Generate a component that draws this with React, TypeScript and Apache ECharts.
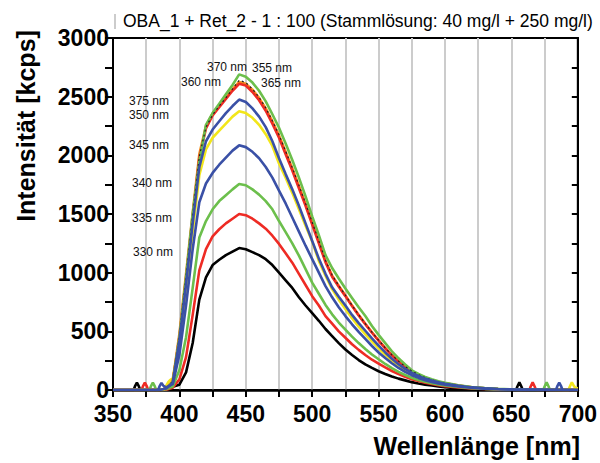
import React, { useEffect, useRef } from "react";
import * as echarts from "echarts";

// Shared wavelength grid (nm) for the main emission band
const wl = [395, 400, 405, 410, 415, 420, 425, 430, 435, 440, 445, 450, 455, 460, 465, 470, 475, 480, 485, 490, 495, 500, 505, 510, 515, 520, 525, 530, 535, 540, 545, 550, 555, 560, 565, 570, 575, 580, 585, 590, 595, 600, 610, 620, 630, 640];

const ex330 = [28, 45, 150, 400, 770, 960, 1065, 1110, 1150, 1180, 1210, 1200, 1175, 1150, 1115, 1065, 1000, 935, 870, 790, 720, 655, 590, 520, 460, 400, 345, 298, 255, 218, 188, 160, 137, 115, 97, 82, 67, 56, 46, 38, 30, 23, 14, 9, 5, 3];
const ex335 = [20, 90, 280, 640, 1020, 1200, 1310, 1370, 1420, 1460, 1500, 1490, 1460, 1420, 1375, 1315, 1245, 1165, 1085, 990, 895, 800, 720, 630, 565, 500, 445, 390, 342, 298, 258, 225, 192, 162, 135, 112, 92, 76, 62, 51, 41, 33, 21, 13, 8, 4];
const ex340 = [30, 170, 450, 870, 1300, 1440, 1540, 1610, 1660, 1710, 1755, 1745, 1710, 1665, 1610, 1540, 1440, 1345, 1250, 1145, 1030, 915, 820, 725, 645, 575, 515, 455, 400, 350, 303, 262, 222, 187, 155, 128, 105, 86, 70, 58, 47, 38, 25, 16, 10, 5];
const ex345 = [50, 300, 720, 1200, 1600, 1760, 1850, 1920, 1980, 2040, 2085, 2070, 2030, 1975, 1900, 1810, 1700, 1590, 1470, 1350, 1230, 1115, 1000, 885, 790, 705, 630, 560, 495, 435, 375, 320, 272, 228, 188, 155, 126, 103, 84, 69, 56, 46, 30, 19, 12, 7];
const ex350 = [100, 400, 850, 1350, 1830, 2050, 2150, 2210, 2270, 2330, 2375, 2360, 2320, 2260, 2180, 2080, 1930, 1810, 1680, 1540, 1400, 1265, 1100, 975, 860, 770, 690, 612, 540, 475, 415, 355, 300, 250, 206, 170, 138, 113, 92, 75, 61, 50, 33, 21, 13, 7];
const ex355 = [80, 480, 990, 1510, 2010, 2250, 2355, 2425, 2495, 2565, 2625, 2610, 2560, 2490, 2400, 2290, 2170, 2030, 1890, 1740, 1585, 1425, 1265, 1100, 975, 888, 806, 720, 640, 565, 492, 424, 358, 298, 245, 199, 160, 130, 106, 86, 70, 58, 38, 24, 15, 9];
const ex360 = [60, 420, 900, 1420, 1900, 2120, 2220, 2290, 2360, 2420, 2475, 2455, 2400, 2330, 2240, 2120, 1975, 1840, 1710, 1570, 1420, 1270, 1120, 990, 875, 795, 720, 640, 570, 505, 440, 378, 320, 266, 220, 180, 146, 119, 97, 80, 65, 53, 35, 22, 14, 8];
const ex365 = [70, 450, 950, 1480, 1980, 2230, 2340, 2410, 2480, 2550, 2610, 2595, 2540, 2470, 2380, 2270, 2150, 2010, 1870, 1720, 1570, 1410, 1250, 1090, 965, 880, 800, 715, 635, 560, 488, 420, 355, 295, 242, 197, 158, 128, 104, 85, 69, 57, 38, 24, 15, 9];
const ex370 = [70, 450, 960, 1500, 1950, 2260, 2360, 2440, 2520, 2600, 2690, 2670, 2620, 2550, 2460, 2350, 2235, 2100, 1960, 1810, 1650, 1480, 1320, 1150, 1040, 950, 865, 785, 705, 630, 545, 470, 400, 330, 270, 218, 168, 137, 111, 91, 75, 62, 41, 26, 16, 10];
const ex375 = [75, 460, 970, 1490, 1990, 2240, 2345, 2420, 2490, 2565, 2640, 2620, 2565, 2495, 2405, 2295, 2175, 2035, 1895, 1745, 1590, 1430, 1270, 1105, 980, 890, 808, 722, 642, 566, 493, 425, 359, 299, 246, 200, 161, 131, 106, 86, 70, 58, 38, 24, 15, 9];

// Low-wavelength parts (Raman scatter bumps), [nm, kcps]
const head330 = [[350, 0], [365.5, 0], [366.5, 30], [368, 62], [369.5, 30], [370.5, 0], [385, 0], [390, 8]];
const head335 = [[350, 0], [371.5, 0], [372.5, 30], [374, 62], [375.5, 30], [376.5, 0], [390, 3]];
const head340 = [[350, 0], [377.5, 0], [378.5, 30], [380, 62], [381.5, 30], [382.5, 0], [390, 6]];
const head345 = [[350, 0], [384, 0], [385, 30], [386.5, 60], [388, 35], [390, 22]];
const head350 = [[350, 0], [388, 0], [389.5, 25], [391.5, 65], [393, 85]];
const headHigh = [[350, 0], [385, 0], [390, 12]];

// High-wavelength parts (second-order scatter bumps)
const tail330 = [[650, 1], [653.5, 0], [654.5, 30], [656, 65], [657.5, 30], [658.5, 0], [700, 0]];
const tail335 = [[650, 2], [663.5, 0], [664.5, 30], [666, 65], [667.5, 30], [668.5, 0], [700, 0]];
const tail340 = [[650, 3], [674, 0], [675, 30], [676.5, 65], [678, 30], [679, 0], [700, 0]];
const tail345 = [[650, 4], [683.5, 0], [684.5, 30], [686, 62], [687.5, 30], [688.5, 0], [700, 0]];
const tail350 = [[650, 4], [693, 0], [694, 30], [695.5, 65], [697, 35], [698, 20], [700, 15]];
const tailHigh = [[650, 5], [700, 0]];

const xTicks = [350, 400, 450, 500, 550, 600, 650, 700];
const yTicks = [0, 500, 1000, 1500, 2000, 2500, 3000];

const title = "OBA_1 + Ret_2 - 1 : 100 (Stammlösung: 40 mg/l + 250 mg/l)";

const build = (head: number[][], main: number[], tail: number[][]) => [
  ...head,
  ...wl.map((w, i) => [w, main[i]]),
  ...tail,
];

const seriesDefs = [
  { name: "330 nm", color: "#000000", data: build(head330, ex330, tail330) },
  { name: "335 nm", color: "#ee2b24", data: build(head335, ex335, tail335) },
  { name: "340 nm", color: "#6cbf4c", data: build(head340, ex340, tail340) },
  { name: "350 nm", color: "#f2e61a", data: build(head350, ex350, tail350) },
  { name: "355 nm", color: "#f5921e", data: build(headHigh, ex355, tailHigh) },
  { name: "365 nm", color: "#ee2b24", data: build(headHigh, ex365, tailHigh) },
  { name: "370 nm", color: "#6cbf4c", data: build(headHigh, ex370, tailHigh) },
  { name: "375 nm", color: "#222222", data: build(headHigh, ex375, tailHigh), dashed: true },
  { name: "345 nm", color: "#3a50a6", data: build(head345, ex345, tail345) },
  { name: "360 nm", color: "#3a50a6", data: build(headHigh, ex360, tailHigh) },
];

const curveLabels = [
  { t: "375 nm", x: 129, y: 101 },
  { t: "350 nm", x: 129, y: 115 },
  { t: "345 nm", x: 129, y: 145 },
  { t: "340 nm", x: 132, y: 183 },
  { t: "335 nm", x: 132, y: 218 },
  { t: "330 nm", x: 133, y: 252 },
  { t: "370 nm", x: 207, y: 67 },
  { t: "355 nm", x: 252, y: 68 },
  { t: "360 nm", x: 181, y: 82 },
  { t: "365 nm", x: 261, y: 83 },
];

const FONT = "'Liberation Sans', Arial, Helvetica, sans-serif";

export default function App() {
  const ref = useRef<HTMLDivElement>(null);
  useEffect(() => {
    if (!ref.current) return;
    const chart = echarts.init(ref.current, null, { renderer: "svg" });
    const axisLabelStyle = { color: "#000", fontFamily: FONT, fontWeight: "bold" as const, fontSize: 23 };
    chart.setOption({
      animation: false,
      backgroundColor: "#ffffff",
      grid: { left: 113, right: 22, top: 38, bottom: 73, show: true, borderColor: "#000", borderWidth: 2, backgroundColor: "transparent" },
      xAxis: {
        type: "value",
        min: xTicks[0],
        max: xTicks[xTicks.length - 1],
        interval: 50,
        axisLine: { show: true, lineStyle: { color: "#000", width: 2.5 } },
        axisTick: { show: true, length: 7, lineStyle: { color: "#000", width: 2 } },
        minorTick: { show: true, splitNumber: 2, length: 7, lineStyle: { color: "#000", width: 2 } },
        splitLine: { show: true, lineStyle: { color: "#cccccc", width: 2 } },
        minorSplitLine: { show: true, lineStyle: { color: "#cccccc", width: 2 } },
        axisLabel: { ...axisLabelStyle, margin: 14, lineHeight: 20, formatter: (v: number) => String(v) },
      },
      yAxis: [
        {
          type: "value",
          min: yTicks[0],
          max: yTicks[yTicks.length - 1],
          interval: 500,
          axisLine: { show: true, lineStyle: { color: "#000", width: 2 } },
          axisTick: { show: true, length: 8, lineStyle: { color: "#000", width: 2 } },
          minorTick: { show: true, splitNumber: 2, length: 8, lineStyle: { color: "#000", width: 2 } },
          splitLine: { show: false },
          axisLabel: { ...axisLabelStyle, margin: 4, lineHeight: 18, formatter: (v: number) => String(v) },
        },
        {
          type: "value",
          position: "right",
          min: 0,
          max: 3000,
          interval: 500,
          axisLine: { show: true, lineStyle: { color: "#000", width: 2 } },
          axisTick: { show: true, inside: true, length: 6, lineStyle: { color: "#000", width: 2 } },
          minorTick: { show: true, splitNumber: 2, length: 6, lineStyle: { color: "#000", width: 2 } },
          splitLine: { show: false },
          axisLabel: { show: false },
        },
      ],
      series: seriesDefs.map((s) => ({
        name: s.name,
        type: "line",
        yAxisIndex: 0,
        data: s.data,
        showSymbol: false,
        symbol: "none",
        lineStyle: s.dashed
          ? { color: s.color, width: 1.2, type: [2, 3] }
          : { color: s.color, width: 2.6 },
        itemStyle: { color: s.color },
      })),
      graphic: [
        { type: "line", shape: { x1: 115, y1: 14, x2: 115, y2: 29 }, style: { stroke: "#999", lineWidth: 1 } },
        { type: "text", x: 123, y: 21, style: { text: title, fontFamily: FONT, fontSize: 17.5, fill: "#000", textAlign: "left", textVerticalAlign: "middle" } },
        { type: "text", x: 26, y: 126, rotation: Math.PI / 2, style: { text: "Intensität [kcps]", fontFamily: FONT, fontWeight: "bold", fontSize: 25, fill: "#000", textAlign: "center", textVerticalAlign: "middle" } },
        { type: "text", x: 580, y: 446, style: { text: "Wellenlänge [nm]", fontFamily: FONT, fontWeight: "bold", fontSize: 25, fill: "#000", textAlign: "right", textVerticalAlign: "middle" } },
        ...curveLabels.map((l) => ({
          type: "text",
          x: l.x,
          y: l.y,
          z: 10,
          style: { text: l.t, fontFamily: FONT, fontSize: 12, fill: "#111", textAlign: "left", textVerticalAlign: "middle" },
        })),
      ],
    });
    return () => chart.dispose();
  }, []);
  return <div ref={ref} style={{ width: 600, height: 463, position: "absolute", left: 0, top: 0 }} />;
}
